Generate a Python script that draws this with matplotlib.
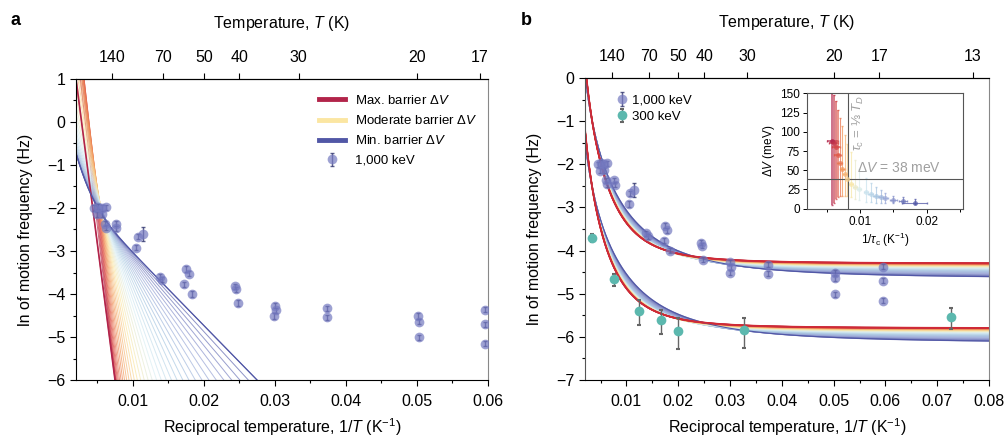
import numpy as np
import matplotlib
matplotlib.use('Agg')
import matplotlib.pyplot as plt
from matplotlib.colors import LinearSegmentedColormap
from matplotlib.lines import Line2D
from matplotlib.ticker import MultipleLocator

plt.rcParams['font.family'] = ['Liberation Sans', 'DejaVu Sans']
plt.rcParams['mathtext.fontset'] = 'custom'
plt.rcParams['mathtext.rm'] = 'Liberation Sans'
plt.rcParams['mathtext.it'] = 'Liberation Sans:italic'
plt.rcParams['mathtext.bf'] = 'Liberation Sans:bold'

# 1,000 keV measurements: 1/T (1/K) and ln of motion frequency (Hz)
kev1000_x = [0.0045, 0.0051, 0.0057, 0.0063, 0.0049, 0.0057, 0.0061, 0.0062,
             0.0076, 0.0077, 0.0105, 0.0107, 0.0114, 0.0138, 0.0141, 0.0172,
             0.0175, 0.0179, 0.0184, 0.0244, 0.0246, 0.0248, 0.0300, 0.0301,
             0.0299, 0.0374, 0.0374, 0.0502, 0.0503, 0.0503, 0.0596, 0.0596, 0.0596]
kev1000_y = [-2.00, -1.97, -2.00, -1.98, -2.15, -2.14, -2.37, -2.46,
             -2.37, -2.47, -2.92, -2.67, -2.60, -3.60, -3.67, -3.77,
             -3.42, -3.53, -4.00, -3.82, -3.89, -4.21, -4.27, -4.38,
             -4.51, -4.33, -4.54, -4.51, -4.64, -5.01, -4.37, -4.70, -5.16]
kev1000_err = [0.06] * 12 + [0.16] + [0.06] * 20

# 300 keV measurements
kev300_x = [0.00336, 0.00768, 0.0124, 0.01658, 0.0200, 0.0327, 0.0727]
kev300_y = [-3.71, -4.67, -5.40, -5.61, -5.86, -5.84, -5.55]
kev300_err_lo = [0.10, 0.14, 0.33, 0.33, 0.43, 0.41, 0.27]
kev300_err_hi = [0.10, 0.13, 0.26, 0.23, 0.30, 0.28, 0.22]

temp_ticks_a = [140, 70, 50, 40, 30, 20, 17]
temp_ticks_b = [140, 70, 50, 40, 30, 20, 17, 13]

# panel a fits, [max barrier, min barrier]
fan_a_pivot_x = [0.0044, 0.0065]
fan_a_pivot_y = [-2.05, -2.45]
fan_a_end_x = [0.0075, 0.0275]      # 1/T where each fit reaches ln f = -6
fan_a_bend = (-1.2, 800.0)          # extra steep term for low barriers

# panel b fits (activated term + tunnelling plateau), [max barrier, min barrier]
upper_lnc = [-15.83, -12.97]
upper_pow = [2.6, 2.1]
upper_plateau = [-4.30, -4.65]
lower_lnc = [-17.36, -14.21]
lower_pow = [2.6, 2.05]
lower_plateau = [-5.80, -6.15]

# inset: barrier vs crossover rate, one point per fit (max -> min barrier)
ins_x = [0.0058, 0.0060, 0.0063, 0.0066, 0.0069, 0.0073, 0.0077, 0.0080, 0.0086,
         0.0092, 0.0099, 0.0109, 0.0116, 0.0124, 0.0131, 0.0138, 0.0150, 0.0164, 0.0182]
ins_y = [88, 85, 80, 70, 60, 52, 45, 38, 32, 28, 25, 22, 19, 16, 15, 14, 11.7, 10.5, 8]
ins_hi = [150, 148, 140, 128, 118, 108, 96, 84, 74, 64, 52, 40, 33, 28, 24, 21, 17, 15, 12]
ins_lo = [5, 7, 12, 15, 16.5, 17, 17, 16, 15, 13, 11, 9, 9, 8, 8, 7, 7, 7, 6]
ins_xerr = [0.0008, 0.0007, 0.0006, 0.0005, 0.0004, 0.0004, 0.0003, 0.0003, 0.0003,
            0.0003, 0.0003, 0.0003, 0.0004, 0.0004, 0.0004, 0.0004, 0.0005, 0.0006, 0.0019]

RED = '#b2244a'
YELLOW = '#fbe6a2'
BLUE = '#5157a6'
cmap = LinearSegmentedColormap.from_list(
    'barrier', [RED, '#dc4c45', '#f39a5b', YELLOW, '#d9eef3', '#a9c8e2', '#98a4d6', BLUE])
C1000 = '#7479c0'
C300 = '#5cb8ae'


def fan_a(x, t):
    px = fan_a_pivot_x[0] + (fan_a_pivot_x[1] - fan_a_pivot_x[0]) * t ** 0.5
    py = fan_a_pivot_y[0] + (fan_a_pivot_y[1] - fan_a_pivot_y[0]) * t
    ex = fan_a_end_x[0] + (fan_a_end_x[1] - fan_a_end_x[0]) * t ** 2.2
    slope = (py + 6) / (ex - px)
    line = py - slope * (x - px)
    bend = fan_a_bend[0] - fan_a_bend[1] * (x - 0.002)
    return np.log(np.exp(line) + t ** 1.5 * np.exp(bend))


def fan_b(x, t, lnc, pw, plat):
    s = t ** 2
    a = lnc[0] + (lnc[1] - lnc[0]) * s
    p = pw[0] + (pw[1] - pw[0]) * s
    b = plat[0] + (plat[1] - plat[0]) * s
    return np.logaddexp(a - p * np.log(x), b)


def style_axis(ax, temps):
    ax.xaxis.set_minor_locator(MultipleLocator(0.005))
    ax.yaxis.set_major_locator(MultipleLocator(1))
    ax.yaxis.set_minor_locator(MultipleLocator(0.5))
    ax.tick_params(which='major', length=4, width=0.8, labelsize=11.5)
    ax.tick_params(axis='x', which='major', pad=6)
    ax.tick_params(which='minor', length=2.5, width=0.8)
    ax.spines['right'].set_color('#888888')
    top = ax.secondary_xaxis('top')
    top.set_xticks([1 / T for T in temps], labels=[str(T) for T in temps])
    top.tick_params(length=4, width=0.8, labelsize=11.5, pad=6)
    top.set_xlabel('Temperature, $T$ (K)', fontsize=11.5, labelpad=16)
    ax.set_xlabel('Reciprocal temperature, 1/$T$ (K$^{-1}$)', fontsize=11.5, labelpad=5)
    ax.set_ylabel('ln of motion frequency (Hz)', fontsize=11.5, labelpad=10)


def draw_1000(ax):
    eb = ax.errorbar(kev1000_x, kev1000_y, yerr=kev1000_err, fmt='o', ms=7,
                     mfc=C1000, mec='none', alpha=0.7, ecolor='#1c2160',
                     elinewidth=1.0, capsize=1.5, zorder=5, label='1,000 keV')
    return eb


fig = plt.figure(figsize=(10.06, 4.41), dpi=100)

# ---- panel a ----
ax1 = fig.add_axes([0.0755, 0.1383, 0.4095, 0.6826])
xa = np.linspace(0.002, 0.06, 1200)
ts = np.linspace(0, 1, 36)
for t in ts:
    ax1.plot(xa, fan_a(xa, t), color=cmap(t), lw=0.7, alpha=0.7)
ax1.plot(xa, fan_a(xa, 0.0), color=RED, lw=1.2)
ax1.plot(xa, fan_a(xa, 1.0), color=BLUE, lw=0.9)
eb1 = draw_1000(ax1)
ax1.set_xlim(0.002, 0.06)
ax1.set_ylim(-6, 1)
ax1.set_xticks([0.01, 0.02, 0.03, 0.04, 0.05, 0.06])
style_axis(ax1, temp_ticks_a)
handles = [Line2D([], [], color=RED, lw=3.5), Line2D([], [], color=YELLOW, lw=3.5),
           Line2D([], [], color=BLUE, lw=3.5), eb1]
labels = [r'Max. barrier $\Delta V$', r'Moderate barrier $\Delta V$',
          r'Min. barrier $\Delta V$', '1,000 keV']
ax1.legend(handles, labels, loc='upper left', bbox_to_anchor=(0.56, 0.99),
           frameon=False, fontsize=9.5, handlelength=2.0, labelspacing=0.55)

# ---- panel b ----
ax2 = fig.add_axes([0.5815, 0.1383, 0.4016, 0.6848])
xb = np.linspace(0.002, 0.08, 1200)
ts = np.linspace(0, 1, 28)
for t in ts[::-1]:
    ax2.plot(xb, fan_b(xb, t, upper_lnc, upper_pow, upper_plateau), color=cmap(t), lw=1.0, alpha=0.75)
    ax2.plot(xb, fan_b(xb, t, lower_lnc, lower_pow, lower_plateau), color=cmap(t), lw=1.0, alpha=0.75)
for lnc, pw, plat in [(upper_lnc, upper_pow, upper_plateau), (lower_lnc, lower_pow, lower_plateau)]:
    ax2.plot(xb, fan_b(xb, 1.0, lnc, pw, plat), color=BLUE, lw=0.8)
    ax2.plot(xb, fan_b(xb, 0.0, lnc, pw, plat), color='#d02a35', lw=1.3)
eb2 = draw_1000(ax2)
eb3 = ax2.errorbar(kev300_x, kev300_y, yerr=[kev300_err_lo, kev300_err_hi], fmt='o', ms=7,
                   mfc=C300, mec='none', ecolor='#666666', elinewidth=1.0, capsize=1.5,
                   capthick=1.5, zorder=5, label='300 keV')
for cap in eb3[1]:
    cap.set_color('black')
ax2.set_xlim(0.002, 0.08)
ax2.set_ylim(-7, 0)
ax2.set_xticks([0.01, 0.02, 0.03, 0.04, 0.05, 0.06, 0.07, 0.08])
style_axis(ax2, temp_ticks_b)
ax2.spines['left'].set_color('#555555')
ax2.legend([eb2, eb3], ['1,000 keV', '300 keV'], loc='upper left',
           bbox_to_anchor=(0.045, 0.985), frameon=False, fontsize=9.5,
           handlelength=1.0, handletextpad=0.3, labelspacing=0.3)

# ---- inset ----
axi = fig.add_axes([0.8022, 0.5268, 0.1551, 0.2612])
n = len(ins_x)
for i in range(n):
    c = cmap(i / (n - 1))
    y = ins_y[i]
    axi.errorbar([ins_x[i]], [y], yerr=[[y - ins_lo[i]], [ins_hi[i] - y]], xerr=ins_xerr[i],
                 fmt='o', ms=3.5, color=c, ecolor=c, elinewidth=1.2 if i < 4 else 0.8,
                 capsize=1, alpha=0.75, mec='none')
axi.axvline(0.0081, color='#555555', lw=0.8)
axi.axhline(38, color='#555555', lw=0.8)
axi.text(0.0086, 148, r'$\tau_\mathrm{c}$ = ⅓ $T_D$', rotation=90, color='#a0a0a0',
         fontsize=9.5, ha='left', va='top')
axi.text(0.0095, 53, r'$\Delta V$ = 38 meV', color='#a0a0a0', fontsize=10,
         ha='left', va='center')
axi.set_xlim(0.002, 0.0255)
axi.set_ylim(0, 150)
axi.set_xticks([0.01, 0.02])
axi.xaxis.set_minor_locator(MultipleLocator(0.005))
axi.yaxis.set_major_locator(MultipleLocator(25))
axi.tick_params(which='major', length=3, width=0.7, labelsize=8.5, pad=2)
axi.tick_params(which='minor', length=2, width=0.7)
for s in axi.spines.values():
    s.set_color('#555555')
    s.set_linewidth(0.8)
axi.set_xlabel(r'1/$\tau_\mathrm{c}$ (K$^{-1}$)', fontsize=8.5, labelpad=2)
axi.set_ylabel(r'$\Delta V$ (meV)', fontsize=8.5, labelpad=2)

fig.text(0.010, 0.953, 'a', fontsize=13, fontweight='bold', va='center')
fig.text(0.518, 0.953, 'b', fontsize=13, fontweight='bold', va='center')

fig.savefig('out.png', dpi=100)
